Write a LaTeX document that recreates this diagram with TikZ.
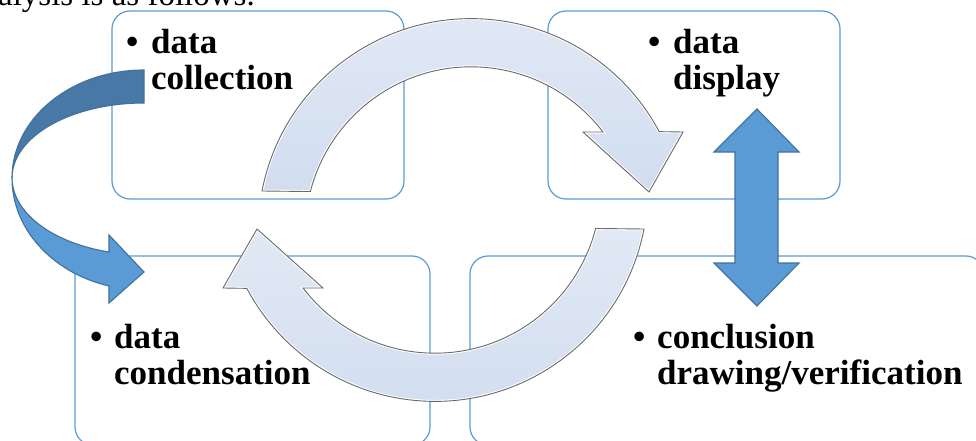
\documentclass[tikz,border=0pt]{standalone}
\usepackage{fontspec}
\setmainfont{Liberation Serif}
\definecolor{boxblue}{HTML}{5B9BD5}
\definecolor{arrowedge}{HTML}{41719C}
\definecolor{darkribbon}{HTML}{4878A6}
\definecolor{lightribbon}{HTML}{5B9BD5}
\definecolor{cyctop}{HTML}{E2E9F5}
\definecolor{cycbot}{HTML}{D1DDEF}
\definecolor{cycedge}{HTML}{6A6A6A}
\def\cycUpperPath{(262,191) arc[start angle=-169, end angle=-28, radius=213] -- (683,132) -- (649,192) -- (583,132) -- (603,132) arc[start angle=-37.4, end angle=-165.6, radius=166] -- cycle}
\def\cycLowerPath{(644,229) arc[start angle=11, end angle=152, radius=213] -- (223,288) -- (257,229) -- (323,288) -- (303,288) arc[start angle=142.6, end angle=14.4, radius=166] -- cycle}
\begin{document}
\begin{tikzpicture}[x=1pt,y=-1pt,
  stagebox/.style={draw=boxblue, line width=1.2pt, rounded corners=18pt, fill=white, inner sep=0pt},
  stagetext/.style={font=\fontsize{35}{36}\selectfont\bfseries, inner sep=0pt, anchor=base west},
  headtext/.style={font=\fontsize{33}{36}\selectfont, inner sep=0pt, anchor=base east},
  blueshape/.style={draw=arrowedge, line width=1.1pt, line join=miter},
  cycfill/.style={top color=cyctop, bottom color=cycbot, draw=none},
  cycglow/.style={draw=white, line width=3pt},
  cycline/.style={draw=cycedge, line width=0.9pt, line join=miter}]
\useasboundingbox (0,0) rectangle (976,441);
\clip (0,0) rectangle (976,441);
\fill[white] (0,0) rectangle (976,441);

% heading fragment
\node[headtext] (head) at (255,6) {analysis is as follows.};

% stage boxes
\node[stagebox, minimum width=292pt, minimum height=188pt] (boxA) at (258,105) {};
\node[stagebox, minimum width=292pt, minimum height=188pt] (boxB) at (694,105) {};
\node[stagebox, minimum width=355pt, minimum height=189pt] (boxC) at (252.5,350.5) {};
\node[stagebox, minimum width=514pt, minimum height=189pt] (boxD) at (727,350.5) {};

% labels
\node[stagetext] (bulA) at (126,54) {\textbullet};
\node[stagetext] (txtA1) at (151,54) {data};
\node[stagetext] (txtA2) at (151,90) {collection};
\node[stagetext] (bulB) at (648,54) {\textbullet};
\node[stagetext] (txtB1) at (673,54) {data};
\node[stagetext] (txtB2) at (673,90) {display};
\node[stagetext] (bulC) at (90,348) {\textbullet};
\node[stagetext] (txtC1) at (114,348) {data};
\node[stagetext] (txtC2) at (114,384) {condensation};
\node[stagetext] (bulD) at (633,348) {\textbullet};
\node[stagetext] (txtD1) at (657,348) {conclusion};
\node[stagetext] (txtD2) at (657,384) {drawing/verification};

% cycle arrows
\path[cycfill] \cycUpperPath;
\begin{scope}\clip \cycUpperPath; \path[cycglow] \cycUpperPath; \end{scope}
\path[cycline] \cycUpperPath;
\path[cycfill] \cycLowerPath;
\begin{scope}\clip \cycLowerPath; \path[cycglow] \cycLowerPath; \end{scope}
\path[cycline] \cycLowerPath;

% curved ribbon arrow on the left
\path[blueshape, fill=darkribbon] (144,70) arc[start angle=-90, end angle=-180, x radius=132, y radius=108]
  arc[start angle=180, end angle=270, x radius=132, y radius=75] -- cycle;
\path[blueshape, fill=lightribbon] (12,178) arc[start angle=180, end angle=105.4, x radius=132, y radius=112]
  -- (109,303) -- (144,272) -- (109,235) -- (109,252)
  arc[start angle=105.4, end angle=180, x radius=132, y radius=77] -- cycle;

% double arrow
\path[blueshape, fill=lightribbon] (757,109) -- (799,152) -- (778,152) -- (778,263) -- (799,263)
  -- (757,306) -- (714,263) -- (735,263) -- (735,152) -- (714,152) -- cycle;
\end{tikzpicture}
\end{document}
